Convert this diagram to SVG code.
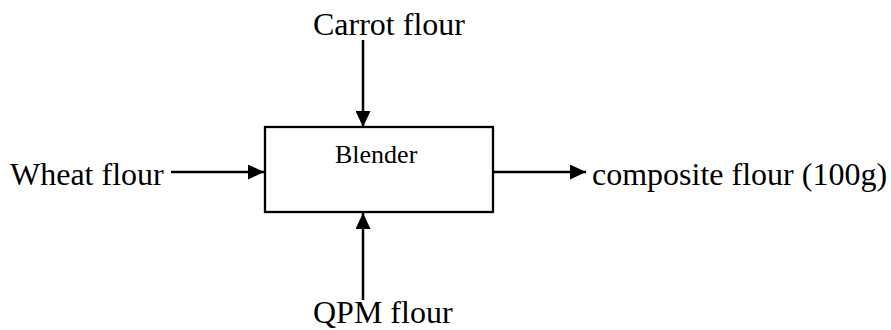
<svg xmlns="http://www.w3.org/2000/svg" width="891" height="330" viewBox="0 0 891 330">
  <style>
    .lbl { font-family: "Liberation Serif", "Times New Roman", serif; font-size: 32px; fill: #000; }
    .box { fill: #fff; stroke: #000; stroke-width: 2.3; }
    .conn { stroke: #000; stroke-width: 2.5; fill: none; marker-end: url(#arrow); }
  </style>
  <defs>
    <marker id="arrow" markerUnits="userSpaceOnUse" markerWidth="16" markerHeight="15" refX="16" refY="7.5" orient="auto">
      <path d="M0,0 L16,7.5 L0,15 Z" fill="#000"/>
    </marker>
  </defs>
  <rect width="891" height="330" fill="#fff"/>
  <g id="connectors">
    <line class="conn" x1="363" y1="40" x2="363" y2="127"/>
    <line class="conn" x1="171" y1="172" x2="264" y2="172"/>
    <line class="conn" x1="493" y1="172" x2="586" y2="172"/>
    <line class="conn" x1="363" y1="300" x2="363" y2="213"/>
  </g>
  <g id="blender">
    <rect class="box" x="265" y="127" width="228" height="85"/>
    <text class="lbl" x="335" y="163" style="font-size:26px">Blender</text>
  </g>
  <g id="carrot">
    <text class="lbl" x="313" y="35">Carrot flour</text>
  </g>
  <g id="wheat">
    <text class="lbl" x="10" y="185">Wheat flour</text>
  </g>
  <g id="composite">
    <text class="lbl" x="592" y="185">composite flour (100g)</text>
  </g>
  <g id="qpm">
    <text class="lbl" x="313" y="323">QPM flour</text>
  </g>
</svg>
